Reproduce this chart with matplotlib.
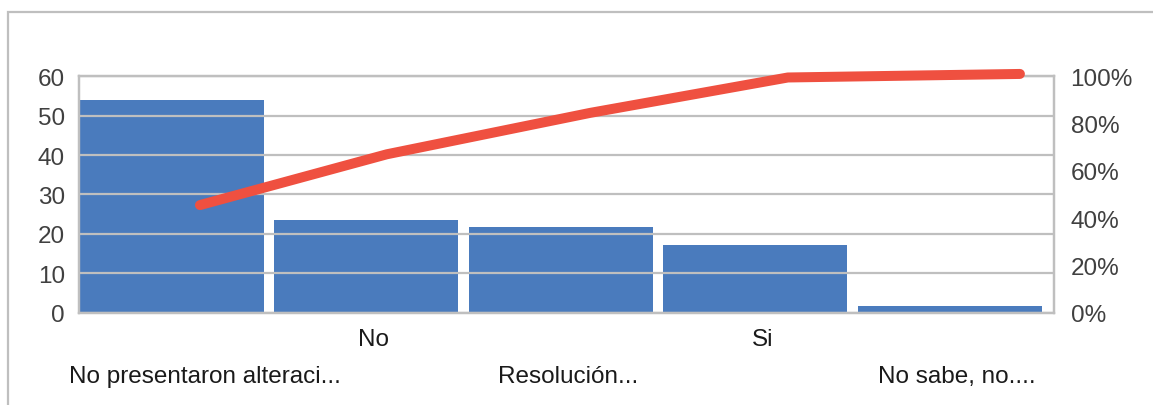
import matplotlib.pyplot as plt
import matplotlib.transforms as mtransforms
from matplotlib.patches import Rectangle
from matplotlib.ticker import PercentFormatter

# data
categorias = ['No presentaron alteraci...', 'No', 'Resolución...', 'Si', 'No sabe, no....']
frecuencia = [53.9, 23.5, 21.7, 17.2, 1.8]
# cumulative line (fractions of 1) and where its points sit along the category axis
acumulado = [0.455, 0.67, 0.845, 0.995, 1.01]
acum_x = [0.144, 1.105, 2.149, 3.167, 4.36]

plt.rcParams['font.family'] = ['Liberation Sans', 'DejaVu Sans']

fig = plt.figure(figsize=(11.53, 4.06), dpi=100)
ax = fig.add_axes([0.0685, 0.2276, 0.8456, 0.582])

# outer chart border
fig.patches.append(Rectangle((8/1153, -0.05), 1.1, 0.05 + 1 - 13/406, transform=fig.transFigure,
                             fill=False, edgecolor='#bfbfbf', linewidth=1.6))

x = list(range(len(categorias)))
ax.bar(x, frecuencia, width=0.946, color='#4a7bbd', zorder=2)
ax.set_xlim(-0.478, 4.535)
ax.set_ylim(0, 60)
ax.set_yticks(range(0, 61, 10))
ax.yaxis.grid(True, color='#bfbfbf', linewidth=1.6, zorder=3)
ax.set_axisbelow(False)
for s in ax.spines.values():
    s.set_color('#bfbfbf')
    s.set_linewidth(1.6)
ax.tick_params(axis='y', length=0, pad=10, labelsize=17.5, labelcolor='#404040')
ax.tick_params(axis='x', length=0, labelsize=17.5, labelcolor='#1a1a1a')
ax.set_xticks(x)
ax.set_xticklabels(categorias)
for i, t in enumerate(ax.xaxis.get_major_ticks()):
    t.set_pad(38 if i % 2 == 0 else 11)
# labels sit slightly right of their bars in the original, the first one more so
for i, lab in enumerate(ax.get_xticklabels()):
    dx = 33 if i == 0 else 7
    lab.set_transform(lab.get_transform() + mtransforms.ScaledTranslation(dx/100, 0, fig.dpi_scale_trans))

ax2 = ax.twinx()
ax2.plot(acum_x, acumulado, color='#ef5040', linewidth=7.2, solid_capstyle='round',
         solid_joinstyle='round', zorder=5, clip_on=False)
ax2.set_ylim(0, 1)
ax2.set_yticks([0, 0.2, 0.4, 0.6, 0.8, 1.0])
ax2.yaxis.set_major_formatter(PercentFormatter(1.0, decimals=0))
ax2.tick_params(axis='y', length=0, pad=12, labelsize=17.5, labelcolor='#404040')
for s in ax2.spines.values():
    s.set_color('#bfbfbf')
    s.set_linewidth(1.6)

fig.savefig('out.png', dpi=100)
